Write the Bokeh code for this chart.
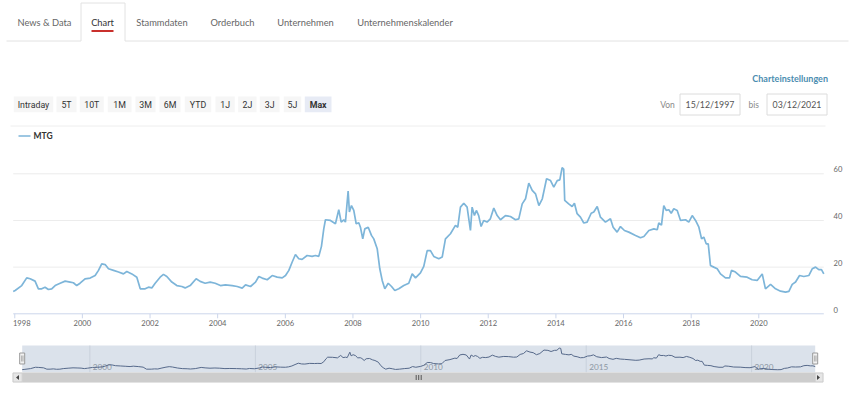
import pandas as pd
from bokeh.plotting import figure
from bokeh.models import Range1d, ColumnDataSource
from bokeh.core.properties import value
from bokeh.embed import file_html
from bokeh.resources import INLINE

# ---------------- data ----------------
series_name = "MTG"
dates = [
    "1997-12-15", "1998-01-05", "1998-03-17", "1998-05-10", "1998-06-16", "1998-08-08", "1998-09-13",
    "1998-10-19", "1998-11-24", "1998-12-30", "1999-02-04", "1999-03-13", "1999-05-06", "1999-06-29",
    "1999-08-22", "1999-09-26", "1999-11-01", "1999-12-07", "2000-01-30", "2000-03-25", "2000-05-18",
    "2000-06-23", "2000-07-28", "2000-09-03", "2000-10-09", "2000-12-02", "2001-01-25", "2001-03-20",
    "2001-04-25", "2001-06-18", "2001-08-11", "2001-09-17", "2001-11-09", "2001-12-15", "2002-01-20",
    "2002-02-25", "2002-04-20", "2002-05-26", "2002-07-01", "2002-08-24", "2002-10-17", "2002-12-10",
    "2003-01-15", "2003-03-10", "2003-05-14", "2003-06-26", "2003-08-19", "2003-10-12", "2003-12-05",
    "2004-01-31", "2004-03-25", "2004-06-06", "2004-07-30", "2004-09-22", "2004-10-28", "2004-12-21",
    "2005-02-13", "2005-03-20", "2005-04-26", "2005-06-19", "2005-08-12", "2005-10-05", "2005-11-28",
    "2006-01-03", "2006-02-08", "2006-03-15", "2006-04-20", "2006-05-26", "2006-07-01", "2006-08-24",
    "2006-10-17", "2006-11-22", "2006-12-28", "2007-01-26", "2007-02-20", "2007-03-10", "2007-05-03",
    "2007-06-26", "2007-08-01", "2007-08-27", "2007-09-24", "2007-10-12", "2007-11-10", "2007-11-24",
    "2007-12-16", "2008-01-10", "2008-02-05", "2008-03-04", "2008-03-22", "2008-04-16", "2008-05-08",
    "2008-06-14", "2008-07-19", "2008-08-13", "2008-09-19", "2008-10-17", "2008-11-12", "2008-12-10",
    "2009-01-16", "2009-02-21", "2009-03-28", "2009-05-10", "2009-07-03", "2009-08-26", "2009-10-02",
    "2009-11-07", "2009-12-30", "2010-02-04", "2010-03-13", "2010-04-17", "2010-05-23", "2010-07-16",
    "2010-08-22", "2010-09-26", "2010-11-19", "2011-01-12", "2011-02-06", "2011-03-07", "2011-04-12",
    "2011-05-18", "2011-06-23", "2011-07-11", "2011-08-05", "2011-08-26", "2011-09-20", "2011-10-16",
    "2011-11-13", "2011-12-19", "2012-01-24", "2012-03-01", "2012-04-07", "2012-05-12", "2012-07-05",
    "2012-08-28", "2012-10-21", "2012-11-26", "2013-01-02", "2013-02-07", "2013-03-14", "2013-04-20",
    "2013-05-26", "2013-07-01", "2013-08-07", "2013-09-22", "2013-11-04", "2013-12-09", "2014-01-15",
    "2014-02-12", "2014-03-09", "2014-03-26", "2014-04-06", "2014-05-19", "2014-06-25", "2014-07-20",
    "2014-08-18", "2014-09-23", "2014-10-29", "2014-12-04", "2015-01-17", "2015-02-14", "2015-03-23",
    "2015-04-27", "2015-06-20", "2015-08-13", "2015-09-11", "2015-10-24", "2015-11-29", "2016-01-11",
    "2016-02-27", "2016-05-10", "2016-07-02", "2016-08-08", "2016-10-01", "2016-11-24", "2016-12-30",
    "2017-01-16", "2017-02-14", "2017-03-11", "2017-04-06", "2017-05-04", "2017-05-30", "2017-06-27",
    "2017-08-03", "2017-09-08", "2017-11-01", "2017-12-06", "2018-01-12", "2018-02-17", "2018-03-25",
    "2018-04-23", "2018-05-17", "2018-06-12", "2018-07-04", "2018-07-28", "2018-09-02", "2018-10-09",
    "2018-11-13", "2019-01-06", "2019-02-19", "2019-03-12", "2019-04-24", "2019-06-17", "2019-08-28",
    "2019-10-21", "2019-12-14", "2020-02-07", "2020-03-13", "2020-05-07", "2020-06-30", "2020-08-23",
    "2020-10-16", "2020-11-21", "2020-12-27", "2021-02-01", "2021-03-16", "2021-05-01", "2021-06-24",
    "2021-07-31", "2021-09-05", "2021-10-10", "2021-11-08", "2021-12-03",
]
prices = [
    9.6, 10.0, 12.1, 15.4, 15.0, 14.0, 10.7,
    10.7, 11.4, 10.4, 10.7, 12.1, 13.1, 14.0,
    13.6, 13.3, 12.1, 13.1, 15.0, 15.3, 16.4,
    18.6, 21.4, 21.1, 19.3, 18.6, 17.9, 17.1,
    18.1, 17.1, 15.7, 10.7, 10.7, 11.4, 11.1,
    13.1, 15.7, 16.9, 16.0, 13.6, 12.1, 11.7,
    11.1, 12.1, 15.0, 13.9, 13.1, 13.6, 13.1,
    12.1, 12.4, 12.1, 11.7, 11.0, 12.4, 11.7,
    13.6, 16.0, 15.3, 14.6, 16.4, 15.7, 15.4,
    16.4, 18.6, 22.1, 25.4, 23.6, 23.3, 25.0,
    24.6, 25.0, 24.6, 28.9, 36.4, 40.3, 40.0,
    38.6, 44.6, 39.3, 40.3, 39.3, 52.6, 43.6,
    46.4, 44.3, 38.6, 39.0, 37.1, 32.1, 36.4,
    37.1, 33.6, 32.1, 27.9, 19.3, 14.3, 10.7,
    13.1, 11.7, 10.0, 10.7, 12.1, 13.1, 17.1,
    15.4, 17.5, 20.3, 27.1, 27.1, 24.6, 23.6,
    24.3, 32.1, 34.3, 37.9, 37.1, 45.7, 47.4,
    45.7, 35.7, 45.7, 42.1, 44.3, 42.1, 37.4,
    40.0, 39.3, 40.7, 45.3, 42.1, 40.3, 42.1,
    41.7, 40.3, 40.7, 47.1, 49.3, 56.0, 52.9,
    51.4, 46.4, 49.3, 57.9, 57.1, 54.3, 57.1,
    57.4, 62.6, 62.0, 48.6, 47.1, 46.0, 47.4,
    42.9, 41.4, 38.9, 39.3, 43.1, 43.6, 46.0,
    41.4, 39.3, 40.7, 37.1, 35.0, 37.4, 35.7,
    35.0, 33.6, 32.6, 33.1, 35.7, 36.4, 36.0,
    38.9, 38.0, 46.4, 44.3, 44.6, 43.1, 45.0,
    44.3, 40.0, 40.3, 39.3, 42.1, 40.0, 37.1,
    32.1, 32.9, 30.0, 30.0, 20.7, 20.0, 19.3,
    17.1, 15.4, 15.4, 18.6, 17.9, 16.0, 15.7,
    14.6, 14.3, 17.1, 10.7, 12.6, 10.7, 9.7,
    9.3, 9.6, 12.6, 13.6, 16.4, 16.0, 16.4,
    19.3, 20.0, 18.9, 18.9, 17.1,
]
x_tick_years = [1998, 2000, 2002, 2004, 2006, 2008, 2010, 2012, 2014, 2016, 2018, 2020]
y_ticks = [0, 20, 40, 60]
nav_years = [2000, 2005, 2010, 2015, 2020]
tabs = ["News & Data", "Chart", "Stammdaten", "Orderbuch", "Unternehmen", "Unternehmenskalender"]
active_tab = "Chart"
range_buttons = ["Intraday", "5T", "10T", "1M", "3M", "6M", "YTD", "1J", "2J", "3J", "5J", "Max"]
active_button = "Max"
settings_label = "Charteinstellungen"
from_label, to_label = "Von", "bis"
date_from, date_to = "15/12/1997", "03/12/2021"

# ---------------- style / layout (page pixels) ----------------
W, H = 860, 393
LINE_COLOR = "#7db5d9"
HUM = value("Lato")
BTN = value("Roboto")
AXIS_FONT_SIZE = "7.6px"

tab_cx = [44, 102, 161.5, 232, 305, 404.5]
btn_lr = [(13.3, 52.7), (56, 76), (79.3, 103.3), (107.3, 131), (135, 155), (159, 180),
          (184.3, 210.7), (215, 234.3), (237.7, 256), (259.3, 279), (283.3, 300.7), (304.3, 331)]

MAIN_L, MAIN_R = 12.7, 823.3              # plot area left/right
MAIN_ZERO, MAIN_PX = 313.3, 46.667 / 20   # y pixel of 0 and pixels per unit
NAV_L, NAV_R = 21.7, 814.7
NAV_ZERO, NAV_PX = 373.0, 0.405

p = figure(width=W, height=H, x_range=Range1d(0, W), y_range=Range1d(H, 0),
           x_axis_type=None, y_axis_type=None, output_backend="svg", toolbar_location=None,
           min_border=0, outline_line_color=None)

t = pd.to_datetime(dates)
src = ColumnDataSource(dict(date=t, price=prices))
t0ms = t[0].value / 1e6
t1ms = t[-1].value / 1e6
mpp = (t1ms - t0ms) / (MAIN_R - MAIN_L)
mppn = (t1ms - t0ms) / (NAV_R - NAV_L)
p.extra_x_ranges = {
    "t": Range1d(t0ms - MAIN_L * mpp, t1ms + (W - MAIN_R) * mpp),
    "tn": Range1d(t0ms - NAV_L * mppn, t1ms + (W - NAV_R) * mppn),
}
p.extra_y_ranges = {
    "v": Range1d(-(H - MAIN_ZERO) / MAIN_PX, MAIN_ZERO / MAIN_PX),
    "vn": Range1d(-(H - NAV_ZERO) / NAV_PX, NAV_ZERO / NAV_PX),
}

# ---------- tabs ----------
p.segment(x0=[6, 124.5, 80.5, 124.5, 80.5], y0=[40.5, 40.5, 2.5, 2.5, 2.5],
          x1=[80.5, 848, 80.5, 124.5, 124.5], y1=[40.5, 40.5, 40.5, 40.5, 2.5],
          line_color="#e2e2e2", line_width=1)
p.segment(x0=[91], y0=[30.5], x1=[113], y1=[30.5], line_color="#c9302c", line_width=2)
p.text(x=tab_cx, y=[22] * len(tabs), text=tabs, text_align="center", text_baseline="middle",
       text_font=HUM, text_font_size="9.3px",
       text_color=["#333333" if s == active_tab else "#666666" for s in tabs])

# ---------- toolbar row ----------
p.text(x=[827.5], y=[77.5], text=[settings_label], text_align="right", text_baseline="middle",
       text_font=HUM, text_font_size="9px", text_font_style="bold", text_color="#4b8db0")
p.quad(left=[a for a, b in btn_lr], right=[b for a, b in btn_lr], top=[96] * len(btn_lr),
       bottom=[111.7] * len(btn_lr),
       fill_color=["#e7ebf5" if b == active_button else "#f6f6f6" for b in range_buttons], line_color=None)
p.text(x=[(a + b) / 2 for a, b in btn_lr], y=[104] * len(btn_lr), text=range_buttons,
       text_align="center", text_baseline="middle", text_font=BTN, text_font_size="8.8px",
       text_font_style=["bold" if b == active_button else "normal" for b in range_buttons],
       text_color="#333333")
p.text(x=[667, 753.3], y=[104, 104], text=[from_label, to_label], text_align="center",
       text_baseline="middle", text_font=HUM, text_font_size="8.5px", text_color="#8a8a8a")
p.quad(left=[679.5, 766.5], right=[739.5, 826.5], top=[93.5, 93.5], bottom=[114.5, 114.5],
       fill_color="white", line_color="#dcdcdc")
p.text(x=[709.5, 796.5], y=[104, 104], text=[date_from, date_to], text_align="center",
       text_baseline="middle", text_font=HUM, text_font_size="8.8px", text_color="#555555")
p.segment(x0=[10], y0=[125.5], x1=[825], y1=[125.5], line_color="#eeeeee", line_width=1)

# ---------- legend ----------
p.segment(x0=[18], y0=[135.5], x1=[30], y1=[135.5], line_color=LINE_COLOR, line_width=1.5)
p.text(x=[33], y=[135.5], text=[series_name], text_baseline="middle", text_font=HUM,
       text_font_size="8.5px", text_font_style="bold", text_color="#333333")

# ---------- main chart ----------
grid_vals = [v for v in y_ticks if v > 0]
p.segment(x0=[MAIN_L] * len(grid_vals), y0=grid_vals, x1=[MAIN_R] * len(grid_vals), y1=grid_vals,
          y_range_name="v", line_color="#ececec", line_width=1)
p.segment(x0=[MAIN_L], y0=[0], x1=[MAIN_R], y1=[0], y_range_name="v", line_color="#ccd6eb", line_width=1)
xt = [pd.Timestamp(f"{y}-01-01").value / 1e6 for y in x_tick_years]
p.segment(x0=xt, y0=[MAIN_ZERO] * len(xt), x1=xt, y1=[MAIN_ZERO + 4.5] * len(xt), x_range_name="t",
          line_color="#ccd6eb", line_width=1)
p.text(x=xt, y=[322.7] * len(xt), text=[str(y) for y in x_tick_years], x_range_name="t",
       x_offset=[7] + [0] * (len(xt) - 1),
       text_align="center", text_baseline="middle", text_font=HUM, text_font_size=AXIS_FONT_SIZE,
       text_color="#666666")
p.text(x=[833] * len(y_ticks), y=y_ticks, text=[str(v) for v in y_ticks], y_range_name="v",
       y_offset=-4.3, text_align="left", text_baseline="middle", text_font=HUM,
       text_font_size=AXIS_FONT_SIZE, text_color="#666666")
p.line(x="date", y="price", source=src, x_range_name="t", y_range_name="v",
       line_color=LINE_COLOR, line_width=1.7)

# ---------- navigator ----------
p.quad(left=[NAV_L], right=[NAV_R], top=[345], bottom=[372], fill_color="#dbe2eb", line_color=None)
nt = [pd.Timestamp(f"{y}-01-01").value / 1e6 for y in nav_years]
p.segment(x0=nt, y0=[345] * len(nt), x1=nt, y1=[372] * len(nt), x_range_name="tn",
          line_color="#c9d1dc", line_width=1)
p.text(x=nt, y=[366.5] * len(nt), text=[str(y) for y in nav_years], x_range_name="tn", x_offset=3,
       text_baseline="middle", text_font=HUM, text_font_size="8.2px", text_color="#8d97a3")
p.line(x="date", y="price", source=src, x_range_name="tn", y_range_name="vn",
       line_color="#56698a", line_width=1)

# scrollbar
p.quad(left=[12], right=[823], top=[372], bottom=[382], fill_color="#f2f2f2", line_color=None)
p.quad(left=[NAV_L], right=[NAV_R], top=[372], bottom=[382], fill_color="#cdcdcd", line_color=None)
p.quad(left=[12.5, NAV_R], right=[NAV_L, 822.5], top=[372.5, 372.5], bottom=[381.5, 381.5],
       fill_color="#e6e6e6", line_color="#cccccc")
p.patches(xs=[[18.5, 15.5, 18.5], [816.5, 819.5, 816.5]], ys=[[374.5, 377, 379.5], [374.5, 377, 379.5]],
          fill_color="#444444", line_color=None)
gx = (NAV_L + NAV_R) / 2
p.segment(x0=[gx - 2.5, gx, gx + 2.5], y0=[374.5] * 3, x1=[gx - 2.5, gx, gx + 2.5], y1=[379.5] * 3,
          line_color="#555555", line_width=1)
# handles
p.quad(left=[NAV_L - 2.5, NAV_R - 2.5], right=[NAV_L + 2.5, NAV_R + 2.5], top=[352.5, 352.5],
       bottom=[363.5, 363.5], fill_color="#f2f2f2", line_color="#999999")
p.segment(x0=[NAV_L - 0.5, NAV_L + 0.8, NAV_R - 0.5, NAV_R + 0.8], y0=[355] * 4,
          x1=[NAV_L - 0.5, NAV_L + 0.8, NAV_R - 0.5, NAV_R + 0.8], y1=[361] * 4,
          line_color="#999999", line_width=0.8)

open("out.html", "w").write(file_html(p, INLINE))
